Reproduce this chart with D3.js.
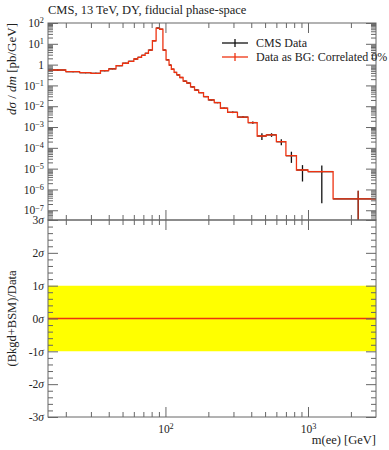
<!DOCTYPE html>
<html>
<head>
<meta charset="utf-8">
<script src="https://cdn.jsdelivr.net/npm/d3@7"></script>
<style>
  body { margin: 0; background: #fff; }
  svg text { font-family: "Liberation Serif", "DejaVu Serif", serif; fill: #222; }
</style>
</head>
<body>
<div id="chart"></div>
<script>
// bin edges of m(ee) in GeV
var massEdges = [15,20,25,30,35,40,45,50,55,60,64,68,72,76,81,86,91,96,101,106,110,115,120,126,133,141,150,160,171,185,200,220,243,273,320,380,440,510,600,700,830,1000,1500,3000];
// dsigma/dm in pb/GeV, one per bin
var xsec = [0.55,0.46,0.41,0.38,0.51,0.63,0.89,1.16,1.44,1.86,2.24,2.8,3.5,5.0,14,57,50,5.0,1.7,0.95,0.60,0.42,0.32,0.24,0.16,0.13,0.085,0.060,0.045,0.029,0.020,0.0150,0.0080,0.0051,0.0030,0.00163,0.00037,0.00042,0.000197,0.000042,0.0000086,0.0000072,0.00000035];
// relative data uncertainty per bin
var relErr = [0.06,0.06,0.06,0.06,0.05,0.05,0.05,0.05,0.04,0.04,0.04,0.04,0.04,0.03,0.03,0.03,0.03,0.03,0.03,0.03,0.03,0.04,0.04,0.04,0.04,0.04,0.05,0.05,0.05,0.05,0.06,0.06,0.07,0.08,0.10,0.12,0.35,0.20,0.32,0.55,0.72,0.97,1.5];
// relative uncertainty on the "data as BG" curve
var bgRelErr = [0.04,0.04,0.04,0.04,0.04,0.04,0.04,0.04,0.04,0.04,0.04,0.04,0.04,0.04,0.04,0.04,0.04,0.04,0.04,0.04,0.04,0.05,0.05,0.05,0.05,0.05,0.06,0.06,0.06,0.06,0.07,0.07,0.08,0.09,0.10,0.10,0.12,0.12,0.12,0.12,0.12,0.12,1.5];
// (Bkgd+BSM)/Data in units of sigma
var ratioSigma = [0,0,0,0,0,0,0,0,0,0,0,0,0,0,0,0,0,0,0,0,0,0,0,0,0,0,0,0,0,0,0,0,0,0,0,0,0,0,0,0,0,0,0];

var yMajor = [1e-7,1e-6,1e-5,1e-4,1e-3,1e-2,1e-1,1,10,100];
var sigmaTicks = [-3,-2,-1,0,1,2,3];
var xMajor = [100, 1000];
var legendLabels = ["CMS Data", "Data as BG: Correlated 0%"];
var legendColors = ["#111", "#EE3311"];

var width = 389, height = 450;
var padL = 48, padR = 376, yT = 23, yM = 220, yB = 417;
var red = "#EE3311", frameCol = "#666";

var svg = d3.select("#chart").append("svg")
    .attr("width", width)
    .attr("height", height);

var x = d3.scaleLog().domain([15, 3000]).range([padL, padR]);
var yTop = d3.scaleLog().domain([3.4e-8, 100]).range([yM, yT]).clamp(true);
var yBot = d3.scaleLinear().domain([-3, 3]).range([yB, yM]);

// minor tick lists
var xMinor = [];
[10, 100, 1000].forEach(function(d){
  for (var k = 2; k <= 9; k++) {
    var v = k * d;
    if (v > 15 && v < 3000) xMinor.push(v);
  }
});
var yMinor = [];
for (var e = -8; e <= 1; e++) {
  for (var k = 2; k <= 9; k++) {
    var v = k * Math.pow(10, e);
    if (v > 3.4e-8 && v < 100) yMinor.push(v);
  }
}
var sigmaMinor = d3.range(-3, 3.01, 0.2).filter(function(d){ return Math.abs(d - Math.round(d)) > 0.01; });

var bins = xsec.map(function(v, i){
  return {lo: massEdges[i], hi: massEdges[i+1], v: v, err: relErr[i], bgErr: bgRelErr[i], r: ratioSigma[i]};
});

function powLabel(sel, d) {
  var e = Math.round(Math.log10(d));
  sel.text(null);
  if (e === 0) { sel.text("1"); return; }
  sel.append("tspan").text("10");
  sel.append("tspan").attr("dy", "-0.45em").attr("font-size", "0.72em").text(String(e).replace("-", "\u2212"));
}

function drawAxis(g, axis) {
  g.call(axis);
  g.select(".domain").remove();
  g.selectAll(".tick line").attr("stroke", frameCol);
}

// ---------- upper panel ----------
var upper = svg.append("g");

var clipTop = svg.append("clipPath").attr("id", "clipTop").append("rect")
  .attr("x", padL).attr("y", yT).attr("width", padR - padL).attr("height", yM - yT);
var plotTop = upper.append("g").attr("clip-path", "url(#clipTop)");

// data: horizontal bars + error bars
var dataG = plotTop.append("g");
dataG.selectAll("line.h").data(bins).enter().append("line")
  .attr("x1", function(d){ return x(d.lo); })
  .attr("x2", function(d){ return x(d.hi); })
  .attr("y1", function(d){ return yTop(d.v); })
  .attr("y2", function(d){ return yTop(d.v); })
  .attr("stroke", "#111").attr("stroke-width", 1.3);
dataG.selectAll("line.e").data(bins).enter().append("line")
  .attr("x1", function(d){ return x((d.lo + d.hi) / 2); })
  .attr("x2", function(d){ return x((d.lo + d.hi) / 2); })
  .attr("y1", function(d){ return yTop(d.v * (1 + d.err)); })
  .attr("y2", function(d){ return yTop(Math.max(d.v * (1 - d.err), 1e-9)); })
  .attr("stroke", "#111").attr("stroke-width", 1.3);

// "data as BG" step histogram
var stepPts = bins.map(function(d){ return [d.lo, d.v]; });
stepPts.push([massEdges[massEdges.length - 1], xsec[xsec.length - 1]]);
var stepLine = d3.line()
  .x(function(d){ return x(d[0]); })
  .y(function(d){ return yTop(d[1]); })
  .curve(d3.curveStepAfter);
plotTop.append("path").datum(stepPts)
  .attr("d", stepLine)
  .attr("fill", "none").attr("stroke", red).attr("stroke-width", 1.3);
plotTop.selectAll("line.bg").data(bins).enter().append("line")
  .attr("x1", function(d){ return x((d.lo + d.hi) / 2); })
  .attr("x2", function(d){ return x((d.lo + d.hi) / 2); })
  .attr("y1", function(d){ return yTop(d.v * (1 + d.bgErr)); })
  .attr("y2", function(d){ return yTop(Math.max(d.v * (1 - d.bgErr), 1e-9)); })
  .attr("stroke", red).attr("stroke-width", 1.1).attr("opacity", 0.85);

// left y axis
drawAxis(upper.append("g").attr("transform", "translate(" + padL + ",0)"),
  d3.axisLeft(yTop).tickValues(yMinor).tickSize(-5).tickFormat(""));
var yl = upper.append("g").attr("transform", "translate(" + padL + ",0)");
drawAxis(yl, d3.axisLeft(yTop).tickValues(yMajor).tickSize(-10).tickPadding(4));
yl.selectAll(".tick text").attr("font-size", 11.5).attr("fill", "#222")
  .each(function(d){ powLabel(d3.select(this), d); });
// right y axis
drawAxis(upper.append("g").attr("transform", "translate(" + padR + ",0)"),
  d3.axisRight(yTop).tickValues(yMinor).tickSize(-5).tickFormat(""));
drawAxis(upper.append("g").attr("transform", "translate(" + padR + ",0)"),
  d3.axisRight(yTop).tickValues(yMajor).tickSize(-10).tickFormat(""));
// top / bottom x ticks
drawAxis(upper.append("g").attr("transform", "translate(0," + yT + ")"),
  d3.axisTop(x).tickValues(xMinor).tickSize(-5).tickFormat(""));
drawAxis(upper.append("g").attr("transform", "translate(0," + yT + ")"),
  d3.axisTop(x).tickValues(xMajor).tickSize(-10).tickFormat(""));
drawAxis(upper.append("g").attr("transform", "translate(0," + yM + ")"),
  d3.axisBottom(x).tickValues(xMinor).tickSize(-5).tickFormat(""));
drawAxis(upper.append("g").attr("transform", "translate(0," + yM + ")"),
  d3.axisBottom(x).tickValues(xMajor).tickSize(-10).tickFormat(""));

upper.append("rect")
  .attr("x", padL).attr("y", yT).attr("width", padR - padL).attr("height", yM - yT)
  .attr("fill", "none").attr("stroke", frameCol).attr("stroke-width", 1);

// legend
var leg = upper.append("g");
legendLabels.forEach(function(label, i){
  var ly = 43 + i * 14;
  leg.append("line").attr("x1", 222).attr("x2", 248).attr("y1", ly).attr("y2", ly)
    .attr("stroke", legendColors[i]).attr("stroke-width", 1.3);
  leg.append("line").attr("x1", 235).attr("x2", 235).attr("y1", ly - 4).attr("y2", ly + 4)
    .attr("stroke", legendColors[i]).attr("stroke-width", 1.3);
  leg.append("text").attr("x", 256).attr("y", ly + 4).attr("font-size", 12).text(label);
});

// ---------- lower panel ----------
var lower = svg.append("g");
var clipBot = svg.append("clipPath").attr("id", "clipBot").append("rect")
  .attr("x", padL).attr("y", yM).attr("width", padR - padL).attr("height", yB - yM);
var plotBot = lower.append("g").attr("clip-path", "url(#clipBot)");

var band = d3.area()
  .x(function(d){ return x(d[0]); })
  .y0(function(){ return yBot(-1); })
  .y1(function(){ return yBot(1); })
  .curve(d3.curveStepAfter);
plotBot.append("path").datum(stepPts)
  .attr("d", band).attr("fill", "#ffff00").attr("stroke", "none");

var ratioPts = bins.map(function(d){ return [d.lo, d.r]; });
ratioPts.push([massEdges[massEdges.length - 1], ratioSigma[ratioSigma.length - 1]]);
plotBot.append("path").datum(ratioPts)
  .attr("d", d3.line().x(function(d){ return x(d[0]); }).y(function(d){ return yBot(d[1]); }).curve(d3.curveStepAfter))
  .attr("fill", "none").attr("stroke", red).attr("stroke-width", 1.3);

drawAxis(lower.append("g").attr("transform", "translate(" + padL + ",0)"),
  d3.axisLeft(yBot).tickValues(sigmaMinor).tickSize(-5).tickFormat(""));
var sl = lower.append("g").attr("transform", "translate(" + padL + ",0)");
drawAxis(sl, d3.axisLeft(yBot).tickValues(sigmaTicks).tickSize(-10).tickPadding(4));
sl.selectAll(".tick text").attr("font-size", 11.5).attr("fill", "#222").each(function(d){
  var t = d3.select(this).text(null);
  t.append("tspan").text(d < 0 ? "-" + Math.abs(d) : String(d));
  t.append("tspan").attr("font-style", "italic").text("\u03C3");
});
drawAxis(lower.append("g").attr("transform", "translate(" + padR + ",0)"),
  d3.axisRight(yBot).tickValues(sigmaMinor).tickSize(-5).tickFormat(""));
drawAxis(lower.append("g").attr("transform", "translate(" + padR + ",0)"),
  d3.axisRight(yBot).tickValues(sigmaTicks).tickSize(-10).tickFormat(""));
drawAxis(lower.append("g").attr("transform", "translate(0," + yM + ")"),
  d3.axisTop(x).tickValues(xMinor).tickSize(-5).tickFormat(""));
drawAxis(lower.append("g").attr("transform", "translate(0," + yM + ")"),
  d3.axisTop(x).tickValues(xMajor).tickSize(-10).tickFormat(""));
drawAxis(lower.append("g").attr("transform", "translate(0," + yB + ")"),
  d3.axisBottom(x).tickValues(xMinor).tickSize(-5).tickFormat(""));
var xb = lower.append("g").attr("transform", "translate(0," + yB + ")");
drawAxis(xb, d3.axisBottom(x).tickValues(xMajor).tickSize(-10).tickPadding(8));
xb.selectAll(".tick text").attr("font-size", 11.5).attr("fill", "#222")
  .each(function(d){ powLabel(d3.select(this), d); });

lower.append("rect")
  .attr("x", padL).attr("y", yM).attr("width", padR - padL).attr("height", yB - yM)
  .attr("fill", "none").attr("stroke", frameCol).attr("stroke-width", 1);

// ---------- titles ----------
svg.append("text").attr("x", 48).attr("y", 14).attr("font-size", 12.5)
  .text("CMS, 13 TeV, DY, fiducial phase-space");

var yt = svg.append("text").attr("transform", "translate(16," + yT + ") rotate(-90)")
  .attr("text-anchor", "end").attr("font-size", 13);
yt.append("tspan").attr("font-style", "italic").text("d\u03C3");
yt.append("tspan").text(" / ");
yt.append("tspan").attr("font-style", "italic").text("dm");
yt.append("tspan").text(" [pb/GeV]");

svg.append("text").attr("transform", "translate(16," + ((yM + yB) / 2) + ") rotate(-90)")
  .attr("text-anchor", "middle").attr("font-size", 12.5)
  .text("(Bkgd+BSM)/Data");

svg.append("text").attr("x", padR).attr("y", 444).attr("text-anchor", "end").attr("font-size", 12.5)
  .text("m(ee) [GeV]");
</script>
</body>
</html>
